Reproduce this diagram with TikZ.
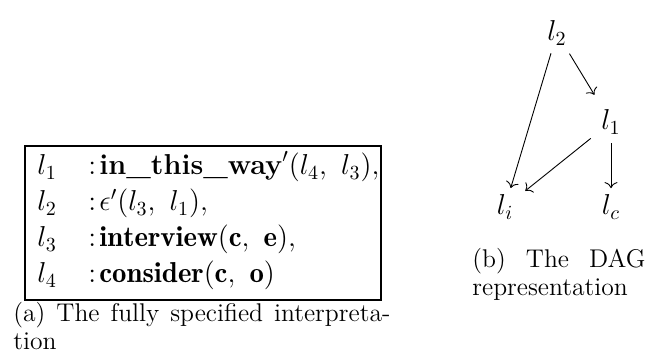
\documentclass[tikz,border=0pt]{standalone}
\usepackage{fontspec}
\usetikzlibrary{arrows.meta}
\begin{document}
\begin{tikzpicture}[x=0.5pt,y=-0.5pt]
\tikzset{
  boxframe/.style={draw, line width=0.55pt, inner sep=0pt},
  rowtext/.style={font=\Large, inner sep=0pt, anchor=base west},
  dagnode/.style={font=\Large, inner sep=0pt, anchor=base},
  captext/.style={font=\fontsize{12.8}{14}\selectfont, inner sep=0pt, anchor=base west, align=left},
  arr/.style={-{To[length=3pt,width=6.5pt]}, line width=0.45pt}
}
\newcommand{\colsep}{{:}\mkern2mu}
\useasboundingbox (0,0) rectangle (646,356);
% left: interpretation box
\node[boxframe, minimum width=178pt, minimum height=77pt] (box) at (203,223) {};
\node[rowtext] (a1) at (37,175) {$l_1$};
\node[rowtext] (b1) at (88,175) {$\colsep\textbf{in\_this\_way}'(l_4,\ l_3),$};
\node[rowtext] (a2) at (37,211) {$l_2$};
\node[rowtext] (b2) at (88,211) {$\colsep\epsilon'(l_3,\ l_1),$};
\node[rowtext] (a3) at (37,247) {$l_3$};
\node[rowtext] (b3) at (88,247) {$\colsep\mathbf{interview}(\mathbf{c},\ \mathbf{e}),$};
\node[rowtext] (a4) at (37,283) {$l_4$};
\node[rowtext] (b4) at (88,283) {$\colsep\mathbf{consider}(\mathbf{c},\ \mathbf{o})$};
% caption (a): base anchor is the baseline of the last line
\node[captext] (capa) at (13,350) {\makebox[188.5pt][s]{(a) The fully specified interpreta-}\\tion};
% right: DAG
\node[dagnode] (l2) at (557,41) {$l_2$};
\node[dagnode] (l1) at (611,130) {$l_1$};
\node[dagnode] (li) at (505,215) {$l_i$};
\node[dagnode] (lc) at (611,215) {$l_c$};
\draw[arr, shorten <=12pt, shorten >=16pt] (l2.center) -- (l1.center);
\draw[arr, shorten <=10.5pt, shorten >=10pt] (l2.center) -- (li.center);
\draw[arr, shorten <=13pt, shorten >=13pt] (l1.center) -- (li.center);
\draw[arr, shorten <=10.5pt, shorten >=9.5pt] (l1.center) -- (lc.center);
\node[captext] (capb) at (472,296) {\makebox[86.5pt][s]{(b) The DAG}\\representation};
\end{tikzpicture}
\end{document}
